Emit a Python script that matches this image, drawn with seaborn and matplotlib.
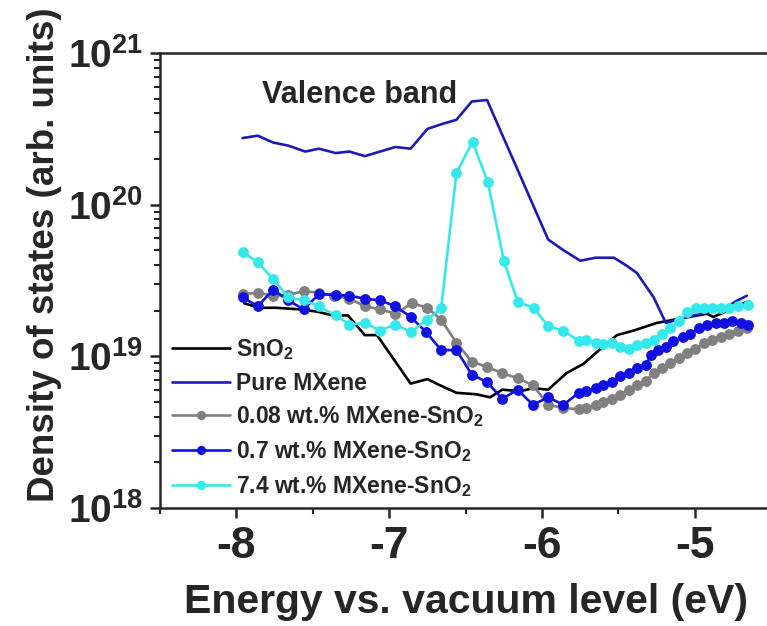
import numpy as np
import pandas as pd
import matplotlib
matplotlib.use("Agg")
import matplotlib.pyplot as plt
import seaborn as sns
from matplotlib.ticker import MultipleLocator, LogLocator

# ---- data (energy in eV, DOS in arb. units) ----
sno2_x = [-7.95, -7.85, -7.74, -7.58, -7.47, -7.37, -7.27, -7.16, -7.08, -6.97,
          -6.86, -6.75, -6.67, -6.56, -6.43, -6.34, -6.26, -6.14, -6.06, -5.96,
          -5.84, -5.73, -5.64, -5.51, -5.40, -5.25, -5.09, -4.92, -4.88, -4.83, -4.66]
sno2_y = [2.24e19, 2.09e19, 2.09e19, 2.04e19, 1.97e19, 1.86e19, 1.86e19, 1.38e19, 1.38e19, 9.55e18,
          6.61e18, 7.08e18, 6.46e18, 5.75e18, 5.62e18, 5.37e18, 6.03e18, 5.89e18, 6.17e18, 6.03e18,
          7.76e18, 8.91e18, 1.07e19, 1.38e19, 1.48e19, 1.66e19, 1.78e19, 1.91e19, 1.82e19, 1.91e19, 2.29e19]

mxene_x = [-7.96, -7.86, -7.76, -7.66, -7.55, -7.46, -7.35, -7.26, -7.16, -7.06,
           -6.96, -6.86, -6.75, -6.66, -6.56, -6.46, -6.36, -6.26, -6.16, -6.06,
           -5.96, -5.86, -5.75, -5.65, -5.53, -5.45, -5.38, -5.27, -5.19, -5.05,
           -4.92, -4.80, -4.72, -4.66]
mxene_y = [2.75e20, 2.85e20, 2.57e20, 2.45e20, 2.24e20, 2.34e20, 2.19e20, 2.24e20, 2.09e20, 2.24e20,
           2.40e20, 2.34e20, 3.16e20, 3.39e20, 3.63e20, 4.79e20, 4.90e20, 2.88e20, 1.70e20, 1.00e20,
           5.89e19, 5.01e19, 4.27e19, 4.47e19, 4.47e19, 3.98e19, 3.55e19, 2.45e19, 1.66e19, 1.82e19,
           1.95e19, 2.09e19, 2.34e19, 2.51e19]

w008_x = [-7.96, -7.86, -7.76, -7.66, -7.56, -7.46, -7.36, -7.26, -7.16, -7.06,
          -6.96, -6.85, -6.75, -6.66, -6.56, -6.46, -6.36, -6.26, -6.16, -6.06,
          -5.96, -5.86, -5.76, -5.71, -5.65, -5.60, -5.54, -5.49, -5.43, -5.38,
          -5.32, -5.27, -5.215, -5.16, -5.105, -5.05, -5.00, -4.94, -4.89, -4.83,
          -4.78, -4.72, -4.66]
w008_y = [2.57e19, 2.63e19, 2.51e19, 2.54e19, 2.69e19, 2.63e19, 2.51e19, 2.40e19, 2.14e19, 2.04e19,
          1.91e19, 2.24e19, 2.09e19, 1.74e19, 1.23e19, 9.23e18, 8.51e18, 7.76e18, 7.16e18, 6.46e18,
          4.79e18, 4.57e18, 4.47e18, 4.57e18, 4.79e18, 5.01e18, 5.25e18, 5.56e18, 6.03e18, 6.46e18,
          6.92e18, 7.76e18, 8.32e18, 9.02e18, 9.77e18, 1.05e19, 1.12e19, 1.23e19, 1.29e19, 1.35e19,
          1.41e19, 1.48e19, 1.53e19]

w07_x = [-7.96, -7.86, -7.76, -7.66, -7.56, -7.46, -7.35, -7.26, -7.16, -7.06,
         -6.96, -6.86, -6.76, -6.66, -6.56, -6.46, -6.36, -6.26, -6.16, -6.06,
         -5.96, -5.86, -5.76, -5.71, -5.65, -5.60, -5.54, -5.49, -5.43, -5.38,
         -5.32, -5.29, -5.24, -5.19, -5.14, -5.08, -5.03, -4.975, -4.92, -4.865,
         -4.81, -4.76, -4.70, -4.65]
w07_y = [2.45e19, 2.14e19, 2.75e19, 2.34e19, 2.04e19, 2.57e19, 2.54e19, 2.51e19, 2.40e19, 2.34e19,
         2.14e19, 1.82e19, 1.45e19, 1.10e19, 1.10e19, 7.59e18, 6.76e18, 5.25e18, 6.03e18, 4.79e18,
         5.37e18, 4.79e18, 5.75e18, 5.89e18, 6.17e18, 6.46e18, 6.76e18, 7.41e18, 7.76e18, 8.32e18,
         8.71e18, 1.02e19, 1.10e19, 1.15e19, 1.26e19, 1.35e19, 1.41e19, 1.53e19, 1.62e19, 1.66e19,
         1.66e19, 1.70e19, 1.66e19, 1.62e19]

w74_x = [-7.96, -7.86, -7.76, -7.66, -7.56, -7.46, -7.35, -7.26, -7.16, -7.06,
         -6.96, -6.86, -6.75, -6.66, -6.56, -6.455, -6.355, -6.25, -6.16, -6.055,
         -5.96, -5.86, -5.76, -5.71, -5.65, -5.60, -5.54, -5.49, -5.43, -5.38,
         -5.32, -5.27, -5.215, -5.16, -5.105, -5.05, -4.995, -4.94, -4.89, -4.83,
         -4.78, -4.72, -4.65]
w74_y = [4.90e19, 4.17e19, 3.24e19, 2.45e19, 2.34e19, 2.14e19, 1.86e19, 1.62e19, 1.66e19, 1.48e19,
         1.62e19, 1.45e19, 1.74e19, 2.09e19, 1.62e20, 2.60e20, 1.41e20, 4.27e19, 2.29e19, 2.09e19,
         1.58e19, 1.48e19, 1.26e19, 1.29e19, 1.23e19, 1.20e19, 1.23e19, 1.16e19, 1.12e19, 1.19e19,
         1.23e19, 1.29e19, 1.41e19, 1.53e19, 1.70e19, 1.95e19, 2.09e19, 2.09e19, 2.09e19, 2.09e19,
         2.09e19, 2.14e19, 2.19e19]

series = [
    ("SnO$_\\mathdefault{2}$", sno2_x, sno2_y, "#000000", None),
    ("Pure MXene", mxene_x, mxene_y, "#1a1ab8", None),
    ("0.08 wt.% MXene-SnO$_\\mathdefault{2}$", w008_x, w008_y, "#808080", "o"),
    ("0.7 wt.% MXene-SnO$_\\mathdefault{2}$", w07_x, w07_y, "#1010e0", "o"),
    ("7.4 wt.% MXene-SnO$_\\mathdefault{2}$", w74_x, w74_y, "#35e8ec", "o"),
]

sns.set_style("ticks")
plt.rcParams["font.family"] = ["Liberation Sans", "DejaVu Sans"]
plt.rcParams["font.weight"] = "bold"
plt.rcParams["axes.labelweight"] = "bold"
plt.rcParams["axes.unicode_minus"] = False

fig = plt.figure(figsize=(7.67, 6.26), dpi=100)
ax = fig.add_axes([0.2086, 0.1885, 0.797, 0.7268])

for label, xs, ys, col, mk in series:
    df = pd.DataFrame({"E": xs, "DOS": ys})
    if mk:
        sns.lineplot(data=df, x="E", y="DOS", ax=ax, color=col, linewidth=1.9,
                     marker=mk, markersize=7.8, markeredgewidth=0, label=label,
                     estimator=None, sort=False)
    else:
        sns.lineplot(data=df, x="E", y="DOS", ax=ax, color=col, linewidth=1.9,
                     label=label, estimator=None, sort=False)

ax.set_yscale("log")
ax.set_xlim(-8.5, -4.5)
ax.set_ylim(1e18, 1e21)
ax.xaxis.set_major_locator(MultipleLocator(1))
ax.xaxis.set_minor_locator(MultipleLocator(0.5))
ax.yaxis.set_major_locator(LogLocator(base=10))
ax.yaxis.set_minor_locator(LogLocator(base=10, subs=np.arange(2, 10)))

for s in ["left", "bottom", "top"]:
    ax.spines[s].set_linewidth(1.8)
ax.spines["right"].set_visible(False)
ax.tick_params(axis="both", which="major", direction="out", length=7, width=1.8)
ax.tick_params(axis="both", which="minor", direction="out", length=4, width=1.5)
ax.tick_params(axis="x", labelsize=32, pad=6)
ax.tick_params(axis="y", labelsize=28, pad=5)
for t in ax.get_xticklabels() + ax.get_yticklabels():
    t.set_fontweight("bold")

ax.set_xlabel("Energy vs. vacuum level (eV)", fontsize=29.5, fontweight="bold")
ax.set_ylabel("Density of states (arb. units)", fontsize=26.5, fontweight="bold")
ax.xaxis.set_label_coords(0.5, -0.165)
ax.yaxis.set_label_coords(-0.16, 0.556)

ax.text(0.167, 0.908, "Valence band", transform=ax.transAxes, fontsize=22,
        fontweight="bold", ha="left", va="center")

ax.legend(loc="lower left", bbox_to_anchor=(0.02, 0.02), frameon=False,
          prop={"weight": "bold", "size": 16.5}, handlelength=2.5,
          handletextpad=0.3, labelspacing=0.43, borderpad=0, borderaxespad=0,
          numpoints=1, markerscale=0.85)

fig.savefig("out.png", dpi=100)
